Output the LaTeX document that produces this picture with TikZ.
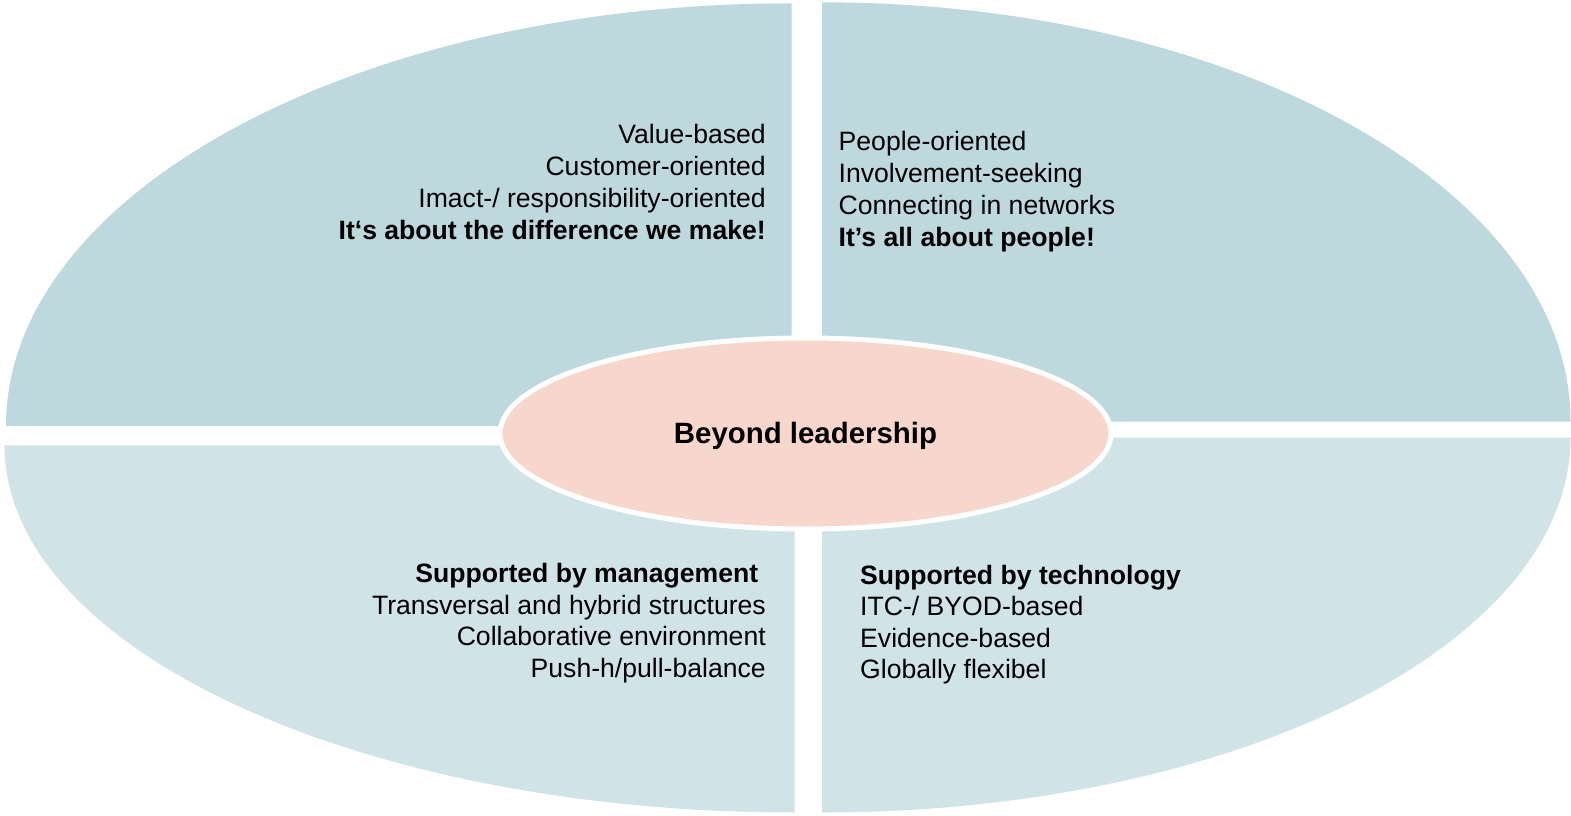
\documentclass[tikz,border=0pt]{standalone}
\usepackage{fontspec}
\setmainfont{Liberation Sans}
\definecolor{topteal}{HTML}{BDD9DE}
\definecolor{botteal}{HTML}{D0E4E8}
\definecolor{corepink}{HTML}{F7D7CB}
\begin{document}
\begin{tikzpicture}[x=1pt,y=1pt,
  txt/.style={inner sep=0pt, font=\fontsize{26.6}{31.8}\selectfont, text=black},
  rtxt/.style={txt, anchor=base east},
  ltxt/.style={txt, anchor=base west},
  bld/.style={font=\fontsize{26.6}{31.8}\selectfont\bfseries}]
\fill[white] (0,0) rectangle (1571,815);
\useasboundingbox (0,0) rectangle (1571,815);
% quarters
\fill[topteal] (791.7,389) -- (6,389) arc[start angle=180,end angle=90,x radius=785.7,y radius=422.7] -- cycle;
\fill[topteal] (822,393.3) -- (1570.5,393.3) arc[start angle=0,end angle=90,x radius=748.5,y radius=419.4] -- cycle;
\fill[botteal] (794.5,369.7) -- (4.5,369.7) arc[start angle=180,end angle=270,x radius=790,y radius=367.2] -- cycle;
\fill[botteal] (822,377.5) -- (1570.5,377.5) arc[start angle=0,end angle=-90,x radius=748.5,y radius=375] -- cycle;
% centre
\filldraw[fill=corepink, draw=white, line width=5pt] (805.5,381.5) ellipse[x radius=305.5, y radius=95.5];
\node[inner sep=0pt, text=black, font=\fontsize{29.4}{34}\selectfont\bfseries, anchor=base] (core) at (805.5,371) {Beyond leadership};
% top left
\node[rtxt] (tl1) at (766,671.5) {Value-based};
\node[rtxt] (tl2) at (766,639.5) {Customer-oriented};
\node[rtxt] (tl3) at (766,607.5) {Imact-/ responsibility-oriented};
\node[rtxt, bld] (tl4) at (766,575.5) {It‘s about the difference we make!};
% top right
\node[ltxt] (tr1) at (838.5,664.5) {People-oriented};
\node[ltxt] (tr2) at (838.5,632.5) {Involvement-seeking};
\node[ltxt] (tr3) at (838.5,600.5) {Connecting in networks};
\node[ltxt, bld] (tr4) at (838.5,568.5) {It’s all about people!};
% bottom left
\node[rtxt, bld] (bl1) at (758.5,232.5) {Supported by management};
\node[rtxt] (bl2) at (766,201) {Transversal and hybrid structures};
\node[rtxt] (bl3) at (766,169.5) {Collaborative environment};
\node[rtxt] (bl4) at (766,138) {Push-h/pull-balance};
% bottom right
\node[ltxt, bld] (br1) at (860,231) {Supported by technology};
\node[ltxt] (br2) at (860,199.5) {ITC-/ BYOD-based};
\node[ltxt] (br3) at (860,168) {Evidence-based};
\node[ltxt] (br4) at (860,136.5) {Globally flexibel};
\end{tikzpicture}
\end{document}
